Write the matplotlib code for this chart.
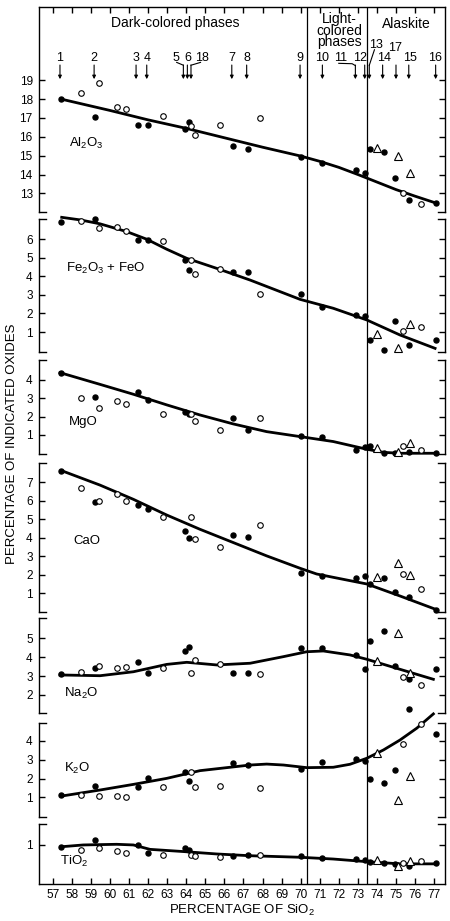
import matplotlib
matplotlib.use('Agg')
import matplotlib.pyplot as plt

plt.rcParams['font.family'] = ['Liberation Sans', 'DejaVu Sans']
plt.rcParams['mathtext.default'] = 'regular'

# ---------------- data ----------------
# SiO2 of samples shown as filled dots, open circles, triangles
sio2_filled = [57.42, 59.22, 61.45, 62.0, 63.92, 64.13, 66.45, 67.25, 70.02, 71.13,
               72.88, 73.4, 73.62, 74.37, 74.95, 75.68, 77.12]
sio2_open = [58.47, 59.42, 60.38, 60.82, 62.79, 64.27, 64.44, 65.76, 67.88, 75.36, 76.32]
sio2_tri = [74.0, 75.1, 75.75]

al2o3_filled = [18.0, 17.05, 16.63, 16.63, 16.4, 16.77, 15.53, 15.37, 14.94, 14.62,
                14.24, 14.06, 15.37, 15.21, 13.83, 12.64, 12.5]
al2o3_open = [18.34, 18.84, 17.58, 17.46, 17.12, 16.57, 16.11, 16.61, 17.01, 13.03, 12.43]
al2o3_tri = [15.42, 14.98, 14.09]
al2o3_curve_x = [57.45, 60, 62, 64, 66, 68, 70, 71, 72, 73, 74, 75, 76, 77.05]
al2o3_curve_y = [18.0, 17.4, 16.9, 16.45, 15.95, 15.45, 14.98, 14.7, 14.38, 14.0, 13.6, 13.2, 12.85, 12.5]

fe_filled = [6.95, 7.09, 5.96, 5.96, 4.88, 4.33, 4.22, 4.22, 3.03, 2.33,
             1.93, 1.86, 0.57, 0.05, 1.62, 0.30, 0.55]
fe_open = [6.99, 6.63, 6.68, 6.45, 5.91, 4.88, 4.13, 4.42, 3.03, 1.05, 1.25]
fe_tri = [0.88, 0.14, 1.43]
fe_curve_x = [57.47, 58.45, 59.48, 60.88, 61.93, 62.98, 64.03, 65.6, 67.35, 69.97, 71.71, 73.47, 75.21, 77.05]
fe_curve_y = [7.18, 7.04, 6.83, 6.41, 6.0, 5.46, 4.97, 4.43, 3.8, 2.76, 2.28, 1.65, 0.84, 0.12]

mgo_filled = [4.4, 3.09, 3.33, 2.91, 2.25, 2.16, 1.91, 1.27, 0.94, 0.87,
              0.18, 0.36, 0.40, 0.0, 0.03, 0.09, 0.0]
mgo_open = [3.04, 2.49, 2.85, 2.67, 2.13, 2.13, 1.78, 1.27, 1.94, 0.42, 0.18]
mgo_tri = [0.27, 0.05, 0.58]
mgo_curve_x = [57.38, 59.48, 61.23, 62.98, 64.72, 66.47, 68.22, 69.97, 71.71, 73.47, 74.34, 75.21, 76.09, 77.05]
mgo_curve_y = [4.4, 3.76, 3.22, 2.64, 2.09, 1.6, 1.18, 0.91, 0.64, 0.22, 0.05, 0.0, 0.0, 0.0]

cao_filled = [7.63, 5.92, 5.77, 5.56, 4.38, 3.97, 4.15, 4.06, 2.11, 1.94,
              1.85, 1.95, 1.49, 1.81, 1.09, 0.78, 0.1]
cao_open = [6.71, 5.99, 6.37, 5.99, 5.14, 5.11, 3.92, 3.52, 4.69, 2.03, 1.22]
cao_tri = [1.9, 2.62, 1.99]
cao_curve_x = [57.47, 59.48, 61.23, 62.98, 64.72, 66.47, 68.22, 69.97, 70.84, 71.71, 73.47, 75.21, 77.05]
cao_curve_y = [7.63, 6.85, 6.08, 5.23, 4.46, 3.74, 3.02, 2.35, 2.04, 1.86, 1.5, 0.85, 0.14]

na2o_filled = [3.1, 3.41, 3.76, 3.15, 4.35, 4.52, 3.18, 3.18, 4.5, 4.5,
               4.12, 3.39, 4.84, 5.4, 3.53, 2.83, 3.39]
na2o_open = [3.22, 3.55, 3.44, 3.48, 3.44, 3.16, 3.85, 3.66, 3.1, 2.94, 2.53]
na2o_tri = [3.8, 5.3, 3.15]
na2o_curve_x = [57.38, 59.48, 61.23, 62.98, 64.03, 65.6, 67.35, 69.1, 70.32, 71.19, 72.59, 73.47, 75.21, 76.96]
na2o_curve_y = [3.06, 3.02, 3.23, 3.62, 3.73, 3.59, 3.68, 4.03, 4.29, 4.33, 4.12, 3.89, 3.36, 2.83]

k2o_filled = [1.11, 1.6, 1.57, 2.05, 2.37, 1.89, 2.85, 2.72, 2.49, 2.88,
              3.02, 2.92, 1.96, 1.78, 2.45, 5.7, 4.37]
k2o_open = [1.12, 1.07, 1.07, 1.03, 1.53, 2.37, 1.57, 1.6, 1.51, 3.82, 4.91]
k2o_tri = [3.38, 0.86, 2.14]
k2o_curve_x = [57.47, 59.48, 61.23, 62.98, 64.72, 66.47, 67.35, 68.22, 69.1, 70.32, 71.71, 72.59,
               73.47, 74.34, 75.21, 76.09, 76.96]
k2o_curve_y = [1.07, 1.39, 1.69, 2.01, 2.42, 2.62, 2.72, 2.77, 2.72, 2.58, 2.6, 2.76,
               3.08, 3.52, 4.05, 4.68, 5.44]

tio2_filled = [0.9, 1.24, 1.01, 0.62, 0.88, 0.77, 0.51, 0.53, 0.49, 0.42,
               0.36, 0.32, 0.23, 0.17, 0.14, 0.03, 0.2]
tio2_open = [0.77, 0.88, 0.73, 0.62, 0.55, 0.55, 0.51, 0.47, 0.55, 0.2, 0.27]
tio2_tri = [0.32, 0.06, 0.29]
tio2_curve_x = [57.47, 58.6, 60.35, 61.23, 62.1, 63.85, 65.6, 67.35, 69.97, 71.71, 73.47, 75.21, 76.96]
tio2_curve_y = [0.92, 1.0, 1.03, 1.0, 0.8, 0.7, 0.59, 0.51, 0.44, 0.36, 0.24, 0.14, 0.14]

oxide_labels = ['Al$_2$O$_3$', 'Fe$_2$O$_3$ + FeO', 'MgO', 'CaO', 'Na$_2$O', 'K$_2$O', 'TiO$_2$']
oxide_yticks = [[13, 14, 15, 16, 17, 18, 19], [1, 2, 3, 4, 5, 6], [1, 2, 3, 4],
                [1, 2, 3, 4, 5, 6, 7], [2, 3, 4, 5], [1, 2, 3, 4], [1]]
x_ticks = list(range(57, 78))

sample_numbers = ['1', '2', '3', '4', '5', '6', '18', '7', '8', '9', '10', '11', '12', '13', '14', '17', '15', '16']
sample_sio2 = [57.38, 59.17, 61.37, 61.93, 63.85, 64.06, 64.25, 66.39, 67.17, 69.97, 71.14,
               72.87, 73.36, 73.6, 74.3, 75.0, 75.67, 77.08]

boundaries = [70.35, 73.47]
phase_names = ['Dark-colored phases', 'Light-\ncolored\nphases', 'Alaskite']

# --------------- layout ---------------
W, H = 450, 921
fig = plt.figure(figsize=(W / 100, H / 100), dpi=100)
px_left, px_right = 39, 445
xlim = (56.28, 77.57)
# (top px, bottom px, ylim)
panel_geom = [(7, 212, (12.01, 22.89)),
              (219, 351.7, (-0.06, 7.09)),
              (360, 454, (-0.04, 5.09)),
              (463.3, 611.7, (0.0, 8.03)),
              (618.3, 713.3, (1.03, 6.06)),
              (723.3, 816.7, (-0.03, 4.94)),
              (824.3, 884.3, (-0.79, 1.94))]

filled = [al2o3_filled, fe_filled, mgo_filled, cao_filled, na2o_filled, k2o_filled, tio2_filled]
opens = [al2o3_open, fe_open, mgo_open, cao_open, na2o_open, k2o_open, tio2_open]
tris = [al2o3_tri, fe_tri, mgo_tri, cao_tri, na2o_tri, k2o_tri, tio2_tri]
curves = [(al2o3_curve_x, al2o3_curve_y), (fe_curve_x, fe_curve_y), (mgo_curve_x, mgo_curve_y),
          (cao_curve_x, cao_curve_y), (na2o_curve_x, na2o_curve_y), (k2o_curve_x, k2o_curve_y),
          (tio2_curve_x, tio2_curve_y)]
label_pos = [(57.85, 15.67), (57.7, 4.45), (57.85, 1.72), (58.06, 3.84),
             (57.59, 2.08), (57.59, 2.55), (57.38, 0.24)]

axes = []
n = len(panel_geom)
for i, (pt, pb, yl) in enumerate(panel_geom):
    ax = fig.add_axes([px_left / W, 1 - pb / H, (px_right - px_left) / W, (pb - pt) / H])
    ax.set_xlim(*xlim)
    ax.set_ylim(*yl)
    ax.patch.set_alpha(0)
    for s in ax.spines.values():
        s.set_linewidth(1.0)
    ax.spines['top'].set_visible(i == 0)
    ax.spines['bottom'].set_visible(i == n - 1)
    ax.set_yticks(oxide_yticks[i])
    ax.tick_params(axis='y', direction='in', left=True, right=True, length=4.5, width=1,
                   labelsize=8.5, pad=4.5)
    if i == 0:
        ax.set_xticks(x_ticks)
        ax.tick_params(axis='x', direction='in', top=True, bottom=False, labeltop=False,
                       labelbottom=False, length=4.5, width=1)
    elif i == n - 1:
        ax.set_xticks(x_ticks)
        ax.tick_params(axis='x', direction='in', top=False, bottom=True, length=4.5, width=1,
                       labelsize=8.5, pad=3.5)
    else:
        ax.set_xticks([])
    # serifs at open panel ends
    sl = 0.017
    if i != 0:
        ax.plot([0, sl], [1, 1], transform=ax.transAxes, color='k', lw=1, clip_on=False)
        ax.plot([1 - sl, 1], [1, 1], transform=ax.transAxes, color='k', lw=1, clip_on=False)
    if i != n - 1:
        ax.plot([0, sl], [0, 0], transform=ax.transAxes, color='k', lw=1, clip_on=False)
        ax.plot([1 - sl, 1], [0, 0], transform=ax.transAxes, color='k', lw=1, clip_on=False)

    cx, cy = curves[i]
    ax.plot(cx, cy, color='k', lw=2.0, clip_on=False, zorder=3, solid_joinstyle='round')
    ax.plot(sio2_filled, filled[i], 'o', ms=3.6, color='k', clip_on=False, zorder=4)
    ax.plot(sio2_open, opens[i], 'o', ms=4.0, mfc='white', mec='k', mew=0.8, clip_on=False, zorder=4)
    ax.plot(sio2_tri, tris[i], '^', ms=5.8, mfc='white', mec='k', mew=0.8, clip_on=False, zorder=4)
    lx, ly = label_pos[i]
    ax.text(lx, ly, oxide_labels[i], fontsize=9.5, ha='left', va='center')
    axes.append(ax)

# overlay axes for continuous boundary lines
ov = fig.add_axes([px_left / W, 1 - 884.3 / H, (px_right - px_left) / W, (884.3 - 7) / H])
ov.set_xlim(*xlim)
ov.set_ylim(0, 1)
ov.axis('off')
for b in boundaries:
    ov.axvline(b, color='k', lw=0.9)

# ---- header in top panel ----
ax0 = axes[0]
ax0.text(63.4, 22.04, phase_names[0], fontsize=10, ha='center', va='center')
ax0.text(72.03, 21.63, phase_names[1], fontsize=10, ha='center', va='center', linespacing=0.78)
ax0.text(75.56, 21.99, phase_names[2], fontsize=10, ha='center', va='center')

label_shift = {'5': (63.44, 20.18), '6': (64.11, 20.18), '18': (64.85, 20.18),
               '11': (72.1, 20.18), '12': (73.1, 20.18), '13': (73.95, 20.87),
               '14': (74.37, 20.18), '17': (74.95, 20.72), '15': (75.74, 20.18),
               '16': (77.05, 20.18)}
for num, xs in zip(sample_numbers, sample_sio2):
    lx, ly = label_shift.get(num, (xs, 20.18))
    ax0.text(lx, ly, num, fontsize=9, ha='center', va='center')
    top = 19.81
    ax0.annotate('', xy=(xs, 19.06), xytext=(xs, top),
                 arrowprops=dict(arrowstyle='-|>', color='k', lw=0.8, mutation_scale=5,
                                 shrinkA=0, shrinkB=0))

# leader lines
ax0.plot([63.5, 63.85], [19.95, 19.8], color='k', lw=0.8)
ax0.plot([64.75, 64.25], [19.95, 19.8], color='k', lw=0.8)
ax0.plot([72.0, 72.7, 72.87], [19.9, 19.88, 19.78], color='k', lw=0.8)
ax0.plot([73.87, 73.6], [20.62, 19.8], color='k', lw=0.8)

fig.text(241.7 / W, 1 - 910 / H, 'PERCENTAGE OF SiO$_2$', fontsize=9.5, ha='center', va='center')
fig.text(12 / W, 1 - 444 / H, 'PERCENTAGE OF INDICATED OXIDES', fontsize=9.5,
         ha='center', va='center', rotation=90)

fig.savefig('out.png', dpi=100)
